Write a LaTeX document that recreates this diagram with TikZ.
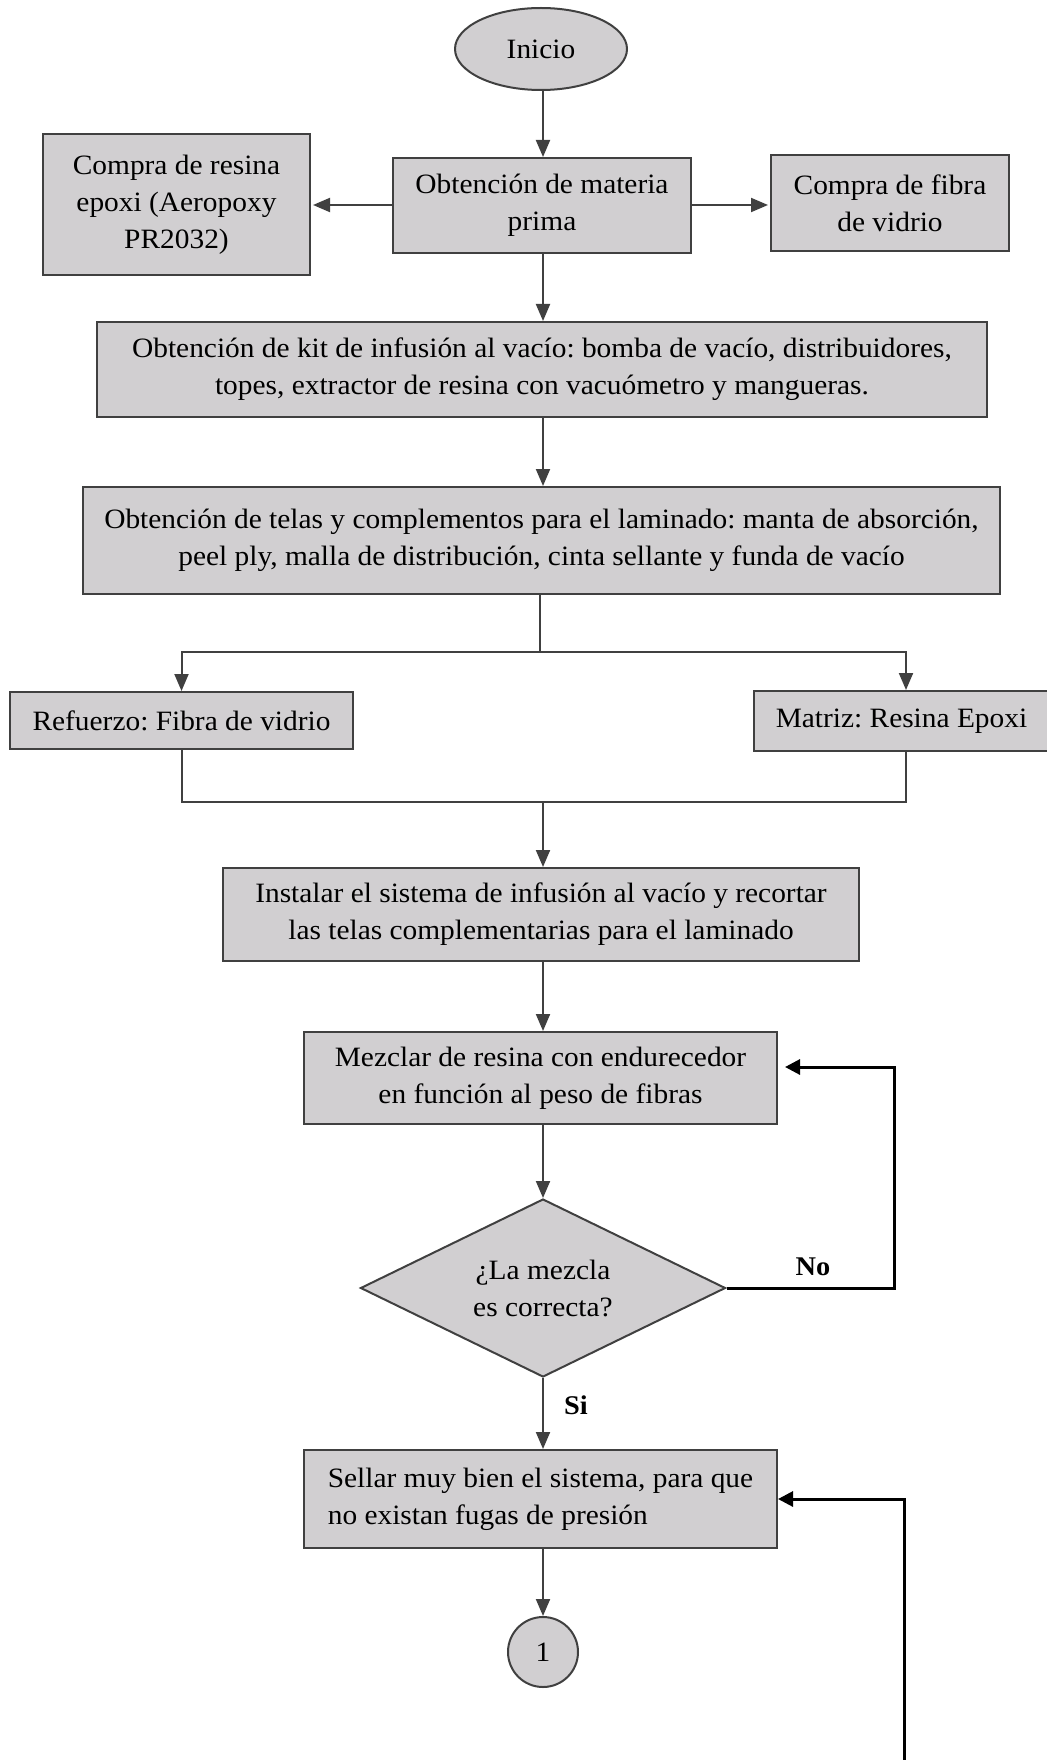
\documentclass[tikz,border=0pt]{standalone}
\usepackage{fontspec}
\setmainfont{Liberation Serif}[FakeStretch=1.05]
\frenchspacing
\usetikzlibrary{shapes.geometric,arrows.meta,calc}

\definecolor{boxfill}{RGB}{209,207,209}
\definecolor{edge}{RGB}{64,64,64}

\tikzset{
  txt/.style={font=\fontsize{28}{37}\selectfont},
  procbox/.style={txt, rectangle, draw=edge, fill=boxfill, line width=2pt,
    inner sep=0pt, align=center},
  termin/.style={txt, ellipse, draw=edge, fill=boxfill, line width=2pt, inner sep=0pt},
  decision/.style={txt, diamond, aspect=2.05, draw=edge, fill=boxfill, line width=2pt,
    inner sep=0pt, align=center},
  connector/.style={txt, circle, draw=edge, fill=boxfill, line width=2pt, inner sep=0pt},
  flow/.style={draw=edge, line width=2pt},
  arr/.style={flow, -{Triangle[length=17pt,width=14pt]}},
  backarr/.style={draw=black, line width=3pt, -{Triangle[length=15pt,width=15pt]}},
  lbl/.style={txt, font=\fontsize{27}{30}\selectfont\bfseries, inner sep=0pt},
}

\begin{document}
\begin{tikzpicture}[x=1pt,y=-1pt]
\useasboundingbox (0,0) rectangle (1046,1760);

% process steps
\node[termin, minimum width=172pt, minimum height=82pt] (inicio) at (541,49) {Inicio};
\node[procbox, minimum width=298pt, minimum height=95pt] (materia) at (542,205.5)
  {Obtención de materia\\prima};
\node[procbox, minimum width=267pt, minimum height=141pt] (resina) at (176.5,204.5)
  {Compra de resina\\epoxi (Aeropoxy\\PR2032)};
\node[procbox, minimum width=238pt, minimum height=96pt] (fibra) at (890,203)
  {Compra de fibra\\de vidrio};
\node[procbox, minimum width=890pt, minimum height=95pt] (kit) at (542,369.5)
  {Obtención de kit de infusión al vacío: bomba de vacío, distribuidores,\\
   topes, extractor de resina con vacuómetro y mangueras.};
\node[procbox, minimum width=917pt, minimum height=107pt] (telas) at (541.5,540.5)
  {Obtención de telas y complementos para el laminado: manta de absorción,\\
   peel ply, malla de distribución, cinta sellante y funda de vacío};
\node[procbox, minimum width=343pt, minimum height=57pt] (refuerzo) at (181.5,720.5)
  {Refuerzo: Fibra de vidrio};
\node[procbox, minimum width=295pt, minimum height=60pt] (matriz) at (901.5,721)
  {Matriz: Resina Epoxi};
\node[procbox, minimum width=636pt, minimum height=93pt] (instalar) at (541,914.5)
  {Instalar el sistema de infusión al vacío y recortar\\
   las telas complementarias para el laminado};
\node[procbox, minimum width=473pt, minimum height=92pt] (mezclar) at (540.5,1078)
  {Mezclar de resina con endurecedor\\en función al peso de fibras};
\node[decision, minimum width=365pt, minimum height=178pt] (check) at (543,1288)
  {¿La mezcla\\es correcta?};
\node[procbox, align=left, minimum width=473pt, minimum height=98pt] (sellar) at (540.5,1499)
  {Sellar muy bien el sistema, para que\\no existan fugas de presión};
\node[connector, minimum size=70pt] (uno) at (543,1652) {1};

% branch labels
\node[lbl] (no) at (813,1267) {No};
\node[lbl] (si) at (576,1405) {Si};

% junction points
\coordinate (axis) at (543,0);
\coordinate (split) at (540,652);
\coordinate (join) at (543,802);
\coordinate (loopend) at (904,1760);
\coordinate (mtop) at ([xshift=4.5pt]matriz.north);
\coordinate (mbot) at ([xshift=4.5pt]matriz.south);
\coordinate (sideL) at (0,205);

% connectors
\draw[arr] (inicio.south -| axis) -- (axis |- materia.north);
\draw[arr] (materia.west |- sideL) -- ([xshift=2pt]resina.east |- sideL);
\draw[arr] (materia.east |- sideL) -- ([xshift=-2pt]fibra.west |- sideL);
\draw[arr] (materia.south -| axis) -- (axis |- kit.north);
\draw[arr] (kit.south -| axis) -- (axis |- telas.north);
\draw[flow] (telas.south -| split) -- (split);
\draw[arr] (split) -| (refuerzo.north);
\draw[arr] (split) -| (mtop);
\draw[flow] (refuerzo.south) -- (refuerzo.south |- join) -- (join -| mbot) -- (mbot);
\draw[arr] (join) -- (join |- instalar.north);
\draw[arr] (instalar.south -| join) -- (join |- mezclar.north);
\draw[arr] (mezclar.south -| check.north) -- (check.north);
\draw[backarr, shorten >=7pt] (check.east) -- ++(167.5,0) |- ([yshift=11pt]mezclar.east);
\draw[arr] (check.south) -- (check.south |- sellar.north);
\draw[arr] (sellar.south -| uno.north) -- (uno.north);
\draw[backarr] (loopend) |- (sellar.east);
\end{tikzpicture}
\end{document}
